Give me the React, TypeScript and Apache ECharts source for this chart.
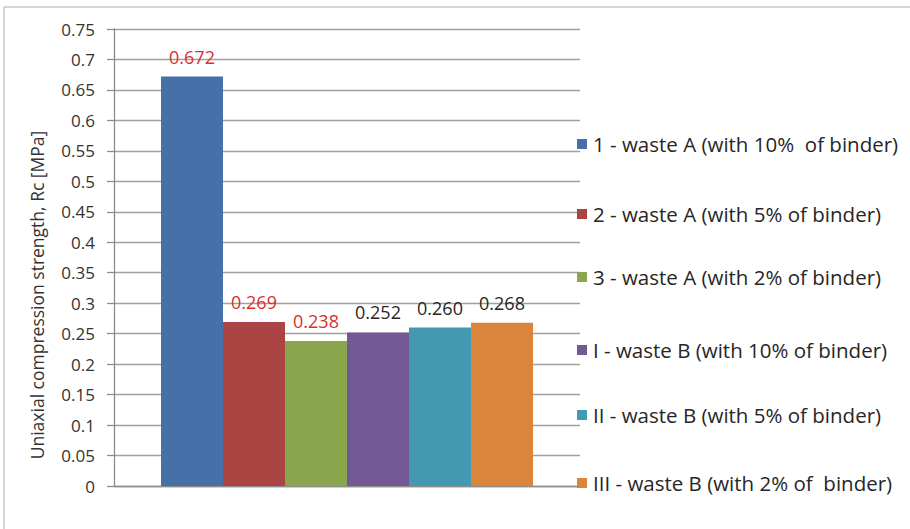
import React, { useEffect, useRef } from "react";
import * as echarts from "echarts";

const seriesNames = [
  "1 - waste A (with 10%  of binder)",
  "2 - waste A (with 5% of binder)",
  "3 - waste A (with 2% of binder)",
  "I - waste B (with 10% of binder)",
  "II - waste B (with 5% of binder)",
  "III - waste B (with 2% of  binder)",
];
const seriesValues = [0.672, 0.269, 0.238, 0.252, 0.26, 0.268];
const seriesColors = ["#4570A8", "#AA4543", "#8AA74D", "#725894", "#4399B1", "#DB843C"];
const labelColors = ["#D9302F", "#D9302F", "#D9302F", "#262626", "#262626", "#262626"];
const legendTops = [139, 209, 272, 345, 410, 478];
const yTicks = [0, 0.05, 0.1, 0.15, 0.2, 0.25, 0.3, 0.35, 0.4, 0.45, 0.5, 0.55, 0.6, 0.65, 0.7, 0.75];
const yTitle = "Uniaxial compression strength, Rc [MPa]";

const FONT = "'Open Sans', 'Noto Sans', sans-serif";

export default function App() {
  const ref = useRef<HTMLDivElement>(null);

  useEffect(() => {
    document.body.style.margin = "0";
    if (!ref.current) return;
    const chart = echarts.init(ref.current, undefined, { renderer: "svg" });

    const series = seriesNames.map((name, i) => ({
      name,
      type: "bar" as const,
      data: [seriesValues[i]],
      barWidth: 62,
      barGap: "0%",
      itemStyle: { color: seriesColors[i] },
      label: {
        show: true,
        position: "top" as const,
        distance: 11,
        formatter: (p: any) => Number(p.value).toFixed(3),
        color: labelColors[i],
        fontFamily: FONT,
        fontSize: 18,
      },
    }));

    const legends = seriesNames.map((name, i) => ({
      data: [name],
      orient: "vertical" as const,
      left: 572,
      top: legendTops[i] - 12,
      itemWidth: 10,
      itemHeight: 10,
      itemGap: 0,
      icon: "rect",
      selectedMode: false,
      textStyle: {
        fontFamily: FONT,
        fontSize: 20.5,
        color: "#262626",
        lineHeight: 24,
        padding: [0, 0, 0, 1],
      },
    }));

    chart.setOption({
      animation: false,
      backgroundColor: "#fff",
      grid: { left: 114, right: 330, top: 29, bottom: 43 },
      legend: legends,
      xAxis: {
        type: "category",
        data: [""],
        axisLine: { lineStyle: { color: "#8c8c8c", width: 1.3 } },
        axisTick: { show: false },
        axisLabel: { show: false },
      },
      yAxis: {
        type: "value",
        min: 0,
        max: 0.75,
        interval: 0.05,
        axisLine: { show: true, lineStyle: { color: "#8c8c8c", width: 1.3 } },
        axisTick: { show: true, length: 7, lineStyle: { color: "#8c8c8c", width: 1.3 } },
        splitLine: { lineStyle: { color: "#a0a0a0", width: 1.3 } },
        axisLabel: {
          fontFamily: FONT,
          fontSize: 17,
          color: "#333",
          margin: 19,
          formatter: (v: number) => {
            const t = yTicks.find((x) => Math.abs(x - v) < 1e-9);
            return t === undefined ? "" : String(Number(t.toFixed(2)));
          },
        },
      },
      graphic: [
        {
          type: "line",
          shape: { x1: 4, y1: 7, x2: 910, y2: 7 },
          style: { stroke: "#c8c8c8", lineWidth: 1.5 },
        },
        {
          type: "line",
          shape: { x1: 4, y1: 7, x2: 4, y2: 529 },
          style: { stroke: "#c8c8c8", lineWidth: 1.5 },
        },
        {
          type: "text",
          x: 37,
          y: 295,
          rotation: Math.PI / 2,
          style: {
            text: yTitle,
            fontFamily: FONT,
            fontSize: 17.5,
            fill: "#333",
            align: "center",
            verticalAlign: "middle",
          },
        },
      ],
      series,
    });

    return () => chart.dispose();
  }, []);

  return <div ref={ref} style={{ width: 910, height: 529 }} />;
}
